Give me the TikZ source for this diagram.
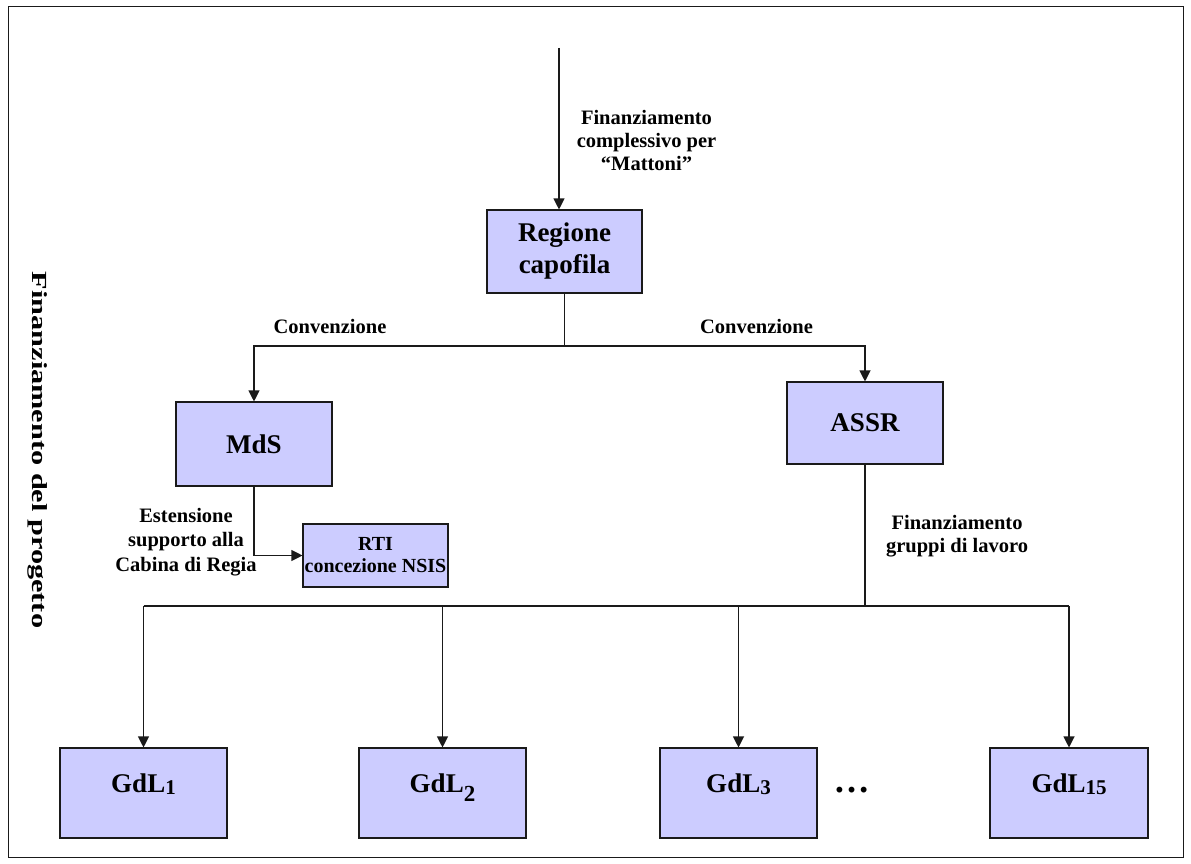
\documentclass[tikz,border=0pt]{standalone}
\usepackage{fontspec}
\setmainfont{Liberation Serif}
\usetikzlibrary{arrows.meta}
\definecolor{boxfill}{HTML}{CCCCFF}
\definecolor{linecol}{HTML}{1A1A1A}
\newcommand{\gsub}[1]{\raisebox{-2pt}{\fontsize{21}{21}\selectfont #1}}
\begin{document}
\begin{tikzpicture}[x=1pt,y=-1pt,
  box/.style={draw=linecol, line width=1.1pt, fill=boxfill, inner sep=0pt, align=center,
    font=\fontsize{27}{32}\selectfont\bfseries},
  gdlbox/.style={box, minimum width=#1, minimum height=90pt, text height=19pt, text depth=21pt},
  lbl/.style={inner sep=0pt, align=center, font=\fontsize{20.5}{23}\selectfont\bfseries},
  conn/.style={line width=1.1pt, draw=linecol},
  arr/.style={conn, -{Triangle[length=11pt,width=11pt]}}]
\useasboundingbox (0,0) rectangle (1191,864);
\draw[line width=1pt, draw=linecol] (8,7) rectangle (1183,857);

% boxes
\node[box, minimum width=155pt, minimum height=83pt] (reg) at (564.5,251.5) {Regione\\capofila};
\node[box, minimum width=156pt, minimum height=84pt] (mds) at (254,444) {MdS};
\node[box, minimum width=156pt, minimum height=82pt] (assr) at (865,423) {ASSR};
\node[box, minimum width=145pt, minimum height=63pt, font=\fontsize{20}{22}\selectfont\bfseries] (rti) at (375.5,555.5) {RTI\\concezione NSIS};
\node[gdlbox=167pt] (g1) at (143.5,793) {GdL\gsub{1}};
\node[gdlbox=167pt] (g2) at (442.5,793) {GdL\raisebox{-9pt}{\fontsize{23}{23}\selectfont 2}};
\node[gdlbox=157pt] (g3) at (738.5,793) {GdL\gsub{3}};
\node[gdlbox=158pt] (g15) at (1069,793) {GdL\gsub{15}};
\node[inner sep=0pt, font=\fontsize{36}{36}\selectfont\bfseries] (dots) at (851.5,790) {…};

% labels
\node[lbl] (lfin) at (646.5,140) {Finanziamento\\complessivo per\\“Mattoni”};
\node[lbl] (lconvl) at (330,326) {Convenzione};
\node[lbl] (lconvr) at (756.5,326) {Convenzione};
\node[lbl, font=\fontsize{20.5}{24.5}\selectfont\bfseries] (lest) at (186,542) {Estensione\\supporto alla\\Cabina di Regia};
\node[lbl] (lgdl) at (957,536) {Finanziamento\\gruppi di lavoro};
\node[inner sep=0pt, rotate=-90, font=\fontsize{21.5}{21.5}\selectfont\bfseries] (side) at (38,450)
  {\scalebox{1.41}[1]{Finanziamento del progetto}};

% connectors
\coordinate (top) at (559,48);
\coordinate (split) at (564.5,346);
\coordinate (bus) at (865,606);
\draw[arr] (top) -- (top |- reg.north);
\draw[conn] (reg.south) -- (split);
\draw[arr] (split) -| (mds.north);
\draw[arr] (split) -| (assr.north);
\draw[arr] (mds.south) |- (rti.west);
\draw[conn] (assr.south) -- (bus);
\draw[conn] (g1.north |- bus) -- (g15.north |- bus);
\foreach \g in {g1,g2,g3,g15}{\draw[arr] (\g.north |- bus) -- (\g.north);}
\end{tikzpicture}
\end{document}
